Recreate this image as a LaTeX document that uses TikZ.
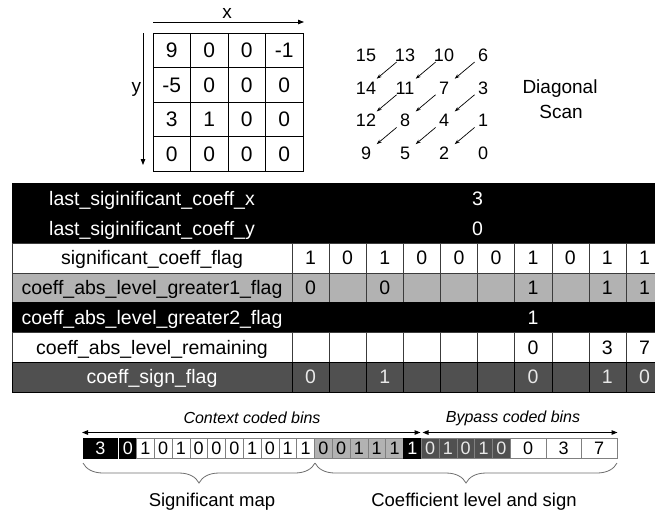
\documentclass[tikz,border=0pt]{standalone}
\usepackage{fontspec}
\setmainfont{Liberation Sans}
\usetikzlibrary{arrows.meta,decorations.pathreplacing}
\definecolor{flaggray}{HTML}{B2B2B2}
\definecolor{signgray}{HTML}{505050}
\definecolor{gridline}{HTML}{3C3C3C}
\definecolor{signtext}{HTML}{E8E8E8}
\definecolor{bracegray}{HTML}{6E6E6E}
\definecolor{binline}{HTML}{808080}

\begin{document}
\begin{tikzpicture}[x=1pt,y=-1pt,
  every node/.style={inner sep=0pt,outer sep=0pt},
  mcell/.style={draw=black,line width=0.9pt,minimum width=37.5pt,minimum height=34.5pt,
    text height=15pt,text depth=0pt,font=\fontsize{21}{21}\selectfont},
  axis/.style={line width=0.8pt,-{Triangle[length=6pt,width=4.5pt]}},
  axislbl/.style={font=\fontsize{19}{19}\selectfont},
  scannum/.style={text height=13pt,text depth=0pt,font=\fontsize{18}{18}\selectfont},
  scanarrow/.style={line width=0.7pt,-{Stealth[length=5pt,width=3.5pt]},
    shorten <=11pt,shorten >=14pt},
  scantitle/.style={font=\fontsize{19}{19}\selectfont},
  rowtext/.style={text height=14pt,text depth=0pt,font=\fontsize{19.5}{19.5}\selectfont},
  lbl/.style={rowtext,minimum width=280pt,minimum height=29.75pt},
  val/.style={rowtext,minimum width=37.1pt,minimum height=29.75pt},
  wide/.style={rowtext,minimum width=371pt,minimum height=29.75pt},
  bin/.style={minimum width=17.8pt,minimum height=19.5pt,draw=binline,line width=0.6pt,
    text height=13pt,text depth=0pt,font=\fontsize{18}{18}\selectfont},
  span/.style={line width=1.1pt,{Triangle[length=6pt,width=4.5pt]}-{Triangle[length=6pt,width=4.5pt]}},
  spanlbl/.style={font=\fontsize{16}{16}\selectfont\itshape},
  brc/.style={decorate,decoration={brace,mirror,amplitude=20pt},draw=bracegray,line width=0.8pt},
  bottomlbl/.style={font=\fontsize{18.5}{18.5}\selectfont}
]
\useasboundingbox (0,0) rectangle (655,515);

% ---------- coefficient block with axes ----------
\foreach \r/\row in {0/{9,0,0,-1},1/{-5,0,0,0},2/{3,1,0,0},3/{0,0,0,0}}{
  \foreach \v [count=\c from 0] in \row
    \node[mcell] (m\r\c) at (171.75+37.5*\c,50.25+34.5*\r) {\v};
}
\coordinate (xaxL) at (153,22);
\coordinate (xaxR) at (304,22);
\draw[axis] (xaxL) -- (xaxR);
\node[axislbl] (xlbl) at (227,13) {x};
\coordinate (yaxT) at (143,33);
\coordinate (yaxB) at (143,165);
\draw[axis] (yaxT) -- (yaxB);
\node[axislbl,anchor=east] (ylbl) at (141,89) {y};

% ---------- diagonal scan order ----------
\foreach \r/\row in {0/{15,13,10,6},1/{14,11,7,3},2/{12,8,4,1},3/{9,5,2,0}}{
  \foreach \v [count=\c from 0] in \row
    \node[scannum] (s\v) at (366+39*\c,55+32.7*\r) {\v};
}
\foreach \a/\b in {1/2,3/4,4/5,6/7,7/8,8/9,10/11,11/12,13/14}
  \draw[scanarrow] (s\a.center) -- (s\b.center);
\node[scantitle] (dtitle) at (560,89) {Diagonal};
\node[scantitle] (stitle) at (561,112) {Scan};

% ---------- syntax element table ----------
% last position rows
\node[lbl,fill=black,draw=black,text=white] (lx) at (152,198.4) {last\_siginificant\_coeff\_x};
\node[wide,fill=black,draw=black,text=white] (vx) at (477.5,198.4) {3};
\node[lbl,fill=black,draw=black,text=white] (ly) at (152,228.1) {last\_siginificant\_coeff\_y};
\node[wide,fill=black,draw=black,text=white] (vy) at (477.5,228.1) {0};

% significance flags
\node[lbl,fill=white,draw=gridline] (lsig) at (152,257.9) {significant\_coeff\_flag};
\foreach \v [count=\c from 0] in {1,0,1,0,0,0,1,0,1,1}
  \node[val,fill=white,draw=gridline] (sig\c) at (310.55+37.1*\c,257.9) {\v};

% greater-than-one flags
\node[lbl,fill=flaggray,draw=gridline] (lg1) at (152,287.6) {coeff\_abs\_level\_greater1\_flag};
\foreach \v [count=\c from 0] in {0,,0,,,,1,,1,1}
  \node[val,fill=flaggray,draw=gridline] (gt1\c) at (310.55+37.1*\c,287.6) {\v};

% greater-than-two flag
\node[lbl,fill=black,draw=black,text=white] (lg2) at (152,317.4) {coeff\_abs\_level\_greater2\_flag};
\node[wide,fill=black,draw=black] (vg2) at (477.5,317.4) {};
\node[val,text=white] (gt2) at (533.15,317.4) {1};

% remaining levels
\node[lbl,fill=white,draw=gridline] (lrem) at (152,347.1) {coeff\_abs\_level\_remaining};
\foreach \v [count=\c from 0] in {,,,,,,0,,3,7}
  \node[val,fill=white,draw=gridline] (rem\c) at (310.55+37.1*\c,347.1) {\v};

% sign flags
\node[lbl,fill=signgray,draw=black,text=white] (lsgn) at (152,376.9) {coeff\_sign\_flag};
\foreach \v [count=\c from 0] in {0,,1,,,,0,,1,0}
  \node[val,fill=signgray,draw=black,text=signtext] (sgn\c) at (310.55+37.1*\c,376.9) {\v};

% ---------- bin string ----------
\node[bin,fill=black,draw=black,text=white,minimum width=34.6pt] (binx) at (100.3,448.25) {3};
\node[bin,fill=black,draw=black,text=white,minimum width=17pt] (biny) at (127.9,448.25) {0};
\foreach \v [count=\c from 0] in {1,0,1,0,0,0,1,0,1,1}
  \node[bin,fill=white] (bs\c) at (145.3+17.8*\c,448.25) {\v};
\foreach \v [count=\c from 0] in {0,0,1,1,1}
  \node[bin,fill=flaggray] (bg\c) at (323.3+17.8*\c,448.25) {\v};
\node[bin,fill=black,draw=black,text=white] (bgt2) at (412.3,448.25) {1};
\foreach \v [count=\c from 0] in {0,1,0,1,0}
  \node[bin,fill=signgray,text=signtext] (bsg\c) at (430.1+17.8*\c,448.25) {\v};
\foreach \v [count=\c from 0] in {0,3,7}
  \node[bin,fill=white,minimum width=35.6pt] (brm\c) at (528+35.6*\c,448.25) {\v};

% coding mode spans
\coordinate (ctxL) at (82,432.5);
\coordinate (ctxR) at (420.5,432.5);
\coordinate (bypL) at (422.5,432.5);
\coordinate (bypR) at (617.5,432.5);
\draw[span] (ctxL) -- (ctxR);
\draw[span] (bypL) -- (bypR);
\node[spanlbl] (ctxtxt) at (252,418) {Context coded bins};
\node[spanlbl] (byptxt) at (513,418) {Bypass coded bins};

% grouping braces
\coordinate (mapL) at (83,463);
\coordinate (mapR) at (315,463);
\coordinate (lvlR) at (617,463);
\draw[brc] (mapL) -- (mapR);
\draw[brc] (mapR) -- (lvlR);
\node[bottomlbl] (maptxt) at (212,502) {Significant map};
\node[bottomlbl] (lvltxt) at (474,502) {Coefficient level and sign};
\end{tikzpicture}
\end{document}
